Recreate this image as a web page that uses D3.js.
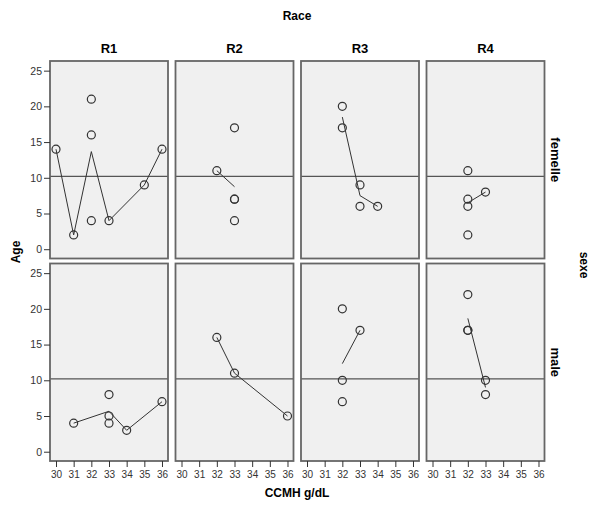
<!DOCTYPE html>
<html>
<head>
<meta charset="utf-8">
<script src="https://cdn.jsdelivr.net/npm/d3@7"></script>
<style>
  body { margin: 0; background: #fff; }
  text { font-family: Arial, "Liberation Sans", sans-serif; }
</style>
</head>
<body>
<svg id="chart" width="594" height="511"></svg>
<script>

// Data

var races = ["R1", "R2", "R3", "R4"],
    sexes = ["femelle", "male"],
    xTicks = [30, 31, 32, 33, 34, 35, 36],
    yTicks = [0, 5, 10, 15, 20, 25],
    refAge = 10.2;

// [CCMH, Age] for each sex / race cell
var femelleR1 = [[30, 14], [31, 2], [32, 21], [32, 16], [32, 4], [33, 4], [35, 9], [36, 14]],
    femelleR2 = [[32, 11], [33, 17], [33, 7], [33, 7], [33, 4]],
    femelleR3 = [[32, 20], [32, 17], [33, 9], [33, 6], [34, 6]],
    femelleR4 = [[32, 11], [32, 7], [32, 6], [32, 2], [33, 8]],
    maleR1 = [[31, 4], [33, 8], [33, 5], [33, 4], [34, 3], [36, 7]],
    maleR2 = [[32, 16], [33, 11], [36, 5]],
    maleR3 = [[32, 20], [32, 10], [32, 7], [33, 17]],
    maleR4 = [[32, 22], [32, 17], [32, 17], [33, 10], [33, 8]];

var cells = {
  femelle: [femelleR1, femelleR2, femelleR3, femelleR4],
  male: [maleR1, maleR2, maleR3, maleR4]
};

// Layout

var panelW = 118,
    panelStep = 125.5,
    left = 50,
    rowTop = [61, 263.5],
    panelH = 197.5;

var svg = d3.select("#chart");

var x = d3.scaleLinear().domain([29.66, 36.34]).range([0, panelW]),
    y = d3.scaleLinear().domain([-1.3, 26.35]).range([panelH, 0]);

var line = d3.line()
  .x(function(d) { return x(d[0]); })
  .y(function(d) { return y(d[1]); });

sexes.forEach(function(sex, r) {
  races.forEach(function(race, c) {
    var pts = cells[sex][c];
    var g = svg.append("g")
      .attr("transform", "translate(" + (left + c * panelStep) + "," + rowTop[r] + ")");

    g.append("rect")
      .attr("width", panelW)
      .attr("height", panelH)
      .style("fill", "#f0f0f0");

    // mean age for each CCMH value
    var means = d3.rollups(pts, function(v) { return d3.mean(v, function(d) { return d[1]; }); },
        function(d) { return d[0]; })
      .sort(function(a, b) { return a[0] - b[0]; });

    g.append("line")
      .attr("x1", 0).attr("x2", panelW)
      .attr("y1", y(refAge)).attr("y2", y(refAge))
      .style("stroke", "#555")
      .style("stroke-width", 1.3);

    g.append("path")
      .datum(means)
      .attr("d", line)
      .style("fill", "none")
      .style("stroke", "#333")
      .style("stroke-width", 1);

    g.selectAll("circle")
      .data(pts)
      .enter()
      .append("circle")
      .attr("cx", function(d) { return x(d[0]); })
      .attr("cy", function(d) { return y(d[1]); })
      .attr("r", 4)
      .style("fill", "none")
      .style("stroke", "#333")
      .style("stroke-width", 1.2);

    g.append("rect")
      .attr("width", panelW)
      .attr("height", panelH)
      .style("fill", "none")
      .style("stroke", "#666")
      .style("stroke-width", 1.8);

    // y axis on first column
    if (c === 0) {
      var ya = g.append("g")
        .call(d3.axisLeft(y).tickValues(yTicks).tickFormat(d3.format("d")).tickSize(6).tickPadding(2));
      ya.select(".domain").remove();
      ya.selectAll("line").style("stroke", "#333");
      ya.selectAll("text").style("font-size", "10.5px").style("fill", "#333")
        .style("font-family", "Arial, 'Liberation Sans', sans-serif");
    }

    // x axis on bottom row
    if (r === 1) {
      var xa = g.append("g")
        .attr("transform", "translate(0," + panelH + ")")
        .call(d3.axisBottom(x).tickValues(xTicks).tickFormat(d3.format("d")).tickSize(6).tickPadding(4));
      xa.select(".domain").remove();
      xa.selectAll("line").style("stroke", "#333");
      xa.selectAll("text").style("font-size", "10px").style("fill", "#333")
        .style("font-family", "Arial, 'Liberation Sans', sans-serif");
    }

    // column titles
    if (r === 0) {
      g.append("text")
        .attr("x", panelW / 2)
        .attr("y", -8)
        .style("text-anchor", "middle")
        .style("font-size", "13px")
        .style("font-weight", "bold")
        .text(race);
    }

    // row titles
    if (c === races.length - 1) {
      g.append("text")
        .attr("transform", "translate(" + (panelW + 6) + "," + (panelH / 2) + ") rotate(90)")
        .style("text-anchor", "middle")
        .style("font-size", "13px")
        .style("font-weight", "bold")
        .text(sex);
    }
  });
});

// Outer titles

svg.append("text")
  .attr("x", 297).attr("y", 20)
  .style("text-anchor", "middle")
  .style("font-size", "12px")
  .style("font-weight", "bold")
  .text("Race");

svg.append("text")
  .attr("x", 297).attr("y", 497)
  .style("text-anchor", "middle")
  .style("font-size", "12px")
  .style("font-weight", "bold")
  .text("CCMH g/dL");

svg.append("text")
  .attr("transform", "translate(20,252) rotate(-90)")
  .style("text-anchor", "middle")
  .style("font-size", "12px")
  .style("font-weight", "bold")
  .text("Age");

svg.append("text")
  .attr("transform", "translate(580,265) rotate(90)")
  .style("text-anchor", "middle")
  .style("font-size", "12px")
  .style("font-weight", "bold")
  .text("sexe");

</script>
</body>
</html>
